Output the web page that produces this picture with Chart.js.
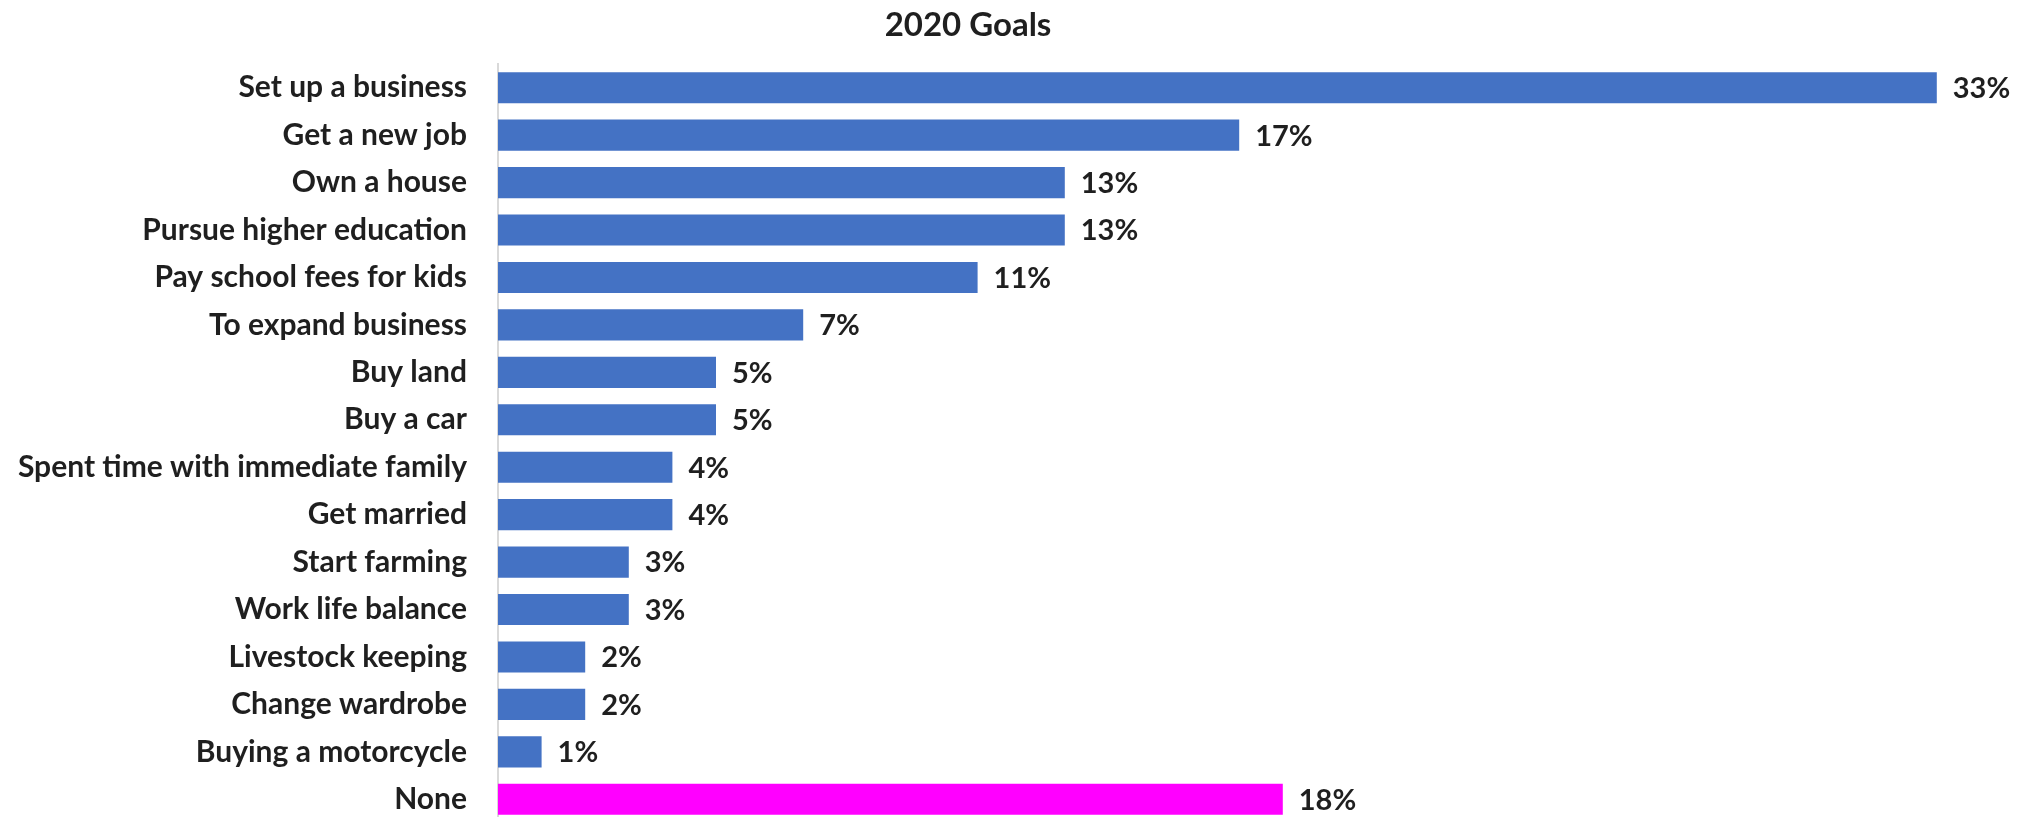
<!DOCTYPE html>
<html>
<head>
<meta charset="utf-8">
<title>2020 Goals</title>
<script src="https://cdn.jsdelivr.net/npm/chart.js@4/dist/chart.umd.min.js"></script>
<style>
  html, body { margin: 0; padding: 0; background: #fff; }
  body { width: 2029px; height: 817px; overflow: hidden; }
  #goalsChart { display: block; }
</style>
</head>
<body>
<canvas id="goalsChart" width="2029" height="823"></canvas>
<script>
// survey answers, top to bottom
const goals = [
  "Set up a business", "Get a new job", "Own a house", "Pursue higher education",
  "Pay school fees for kids", "To expand business", "Buy land", "Buy a car",
  "Spent time with immediate family", "Get married", "Start farming",
  "Work life balance", "Livestock keeping", "Change wardrobe",
  "Buying a motorcycle", "None"
];
const shares = [33, 17, 13, 13, 11, 7, 5, 5, 4, 4, 3, 3, 2, 2, 1, 18];
const xMax = 35;
const chartTitle = "2020 Goals";

const BLUE = "#4472C4";
const PINK = "#FF00FF";
const TEXT = "#1f1f1f";
const FONT = "Lato, 'Open Sans', sans-serif";

const barColors = goals.map(g => g === "None" ? PINK : BLUE);

// title sits a bit left of the page centre, over the bars
const titleText = {
  id: "titleText",
  afterDraw(chart) {
    const ctx = chart.ctx;
    ctx.save();
    ctx.font = "bold 33px " + FONT;
    ctx.fillStyle = TEXT;
    ctx.textAlign = "center";
    ctx.textBaseline = "middle";
    ctx.fillText(chartTitle, 968, 25);
    ctx.restore();
  }
};

// prints "NN%" just past the end of every bar
const valueLabels = {
  id: "valueLabels",
  afterDatasetsDraw(chart) {
    const ctx = chart.ctx;
    const meta = chart.getDatasetMeta(0);
    ctx.save();
    ctx.font = "bold 29px " + FONT;
    ctx.fillStyle = TEXT;
    ctx.textAlign = "left";
    ctx.textBaseline = "middle";
    meta.data.forEach((bar, i) => {
      ctx.fillText(shares[i] + "%", bar.x + 16, bar.y + 1);
    });
    ctx.restore();
  }
};

new Chart(document.getElementById("goalsChart"), {
  type: "bar",
  data: {
    labels: goals,
    datasets: [{
      data: shares,
      backgroundColor: barColors,
      borderWidth: 0,
      barPercentage: 0.655,
      categoryPercentage: 1
    }]
  },
  options: {
    indexAxis: "y",
    responsive: false,
    animation: false,
    layout: {
      padding: { left: 0, right: 5, top: 64, bottom: 0 }
    },
    plugins: {
      legend: { display: false },
      tooltip: { enabled: false },
      title: { display: false }
    },
    scales: {
      x: {
        display: false,
        min: 0,
        max: xMax
      },
      y: {
        afterFit(scale) {
          // fixed label column; bars run the full height of the chart area
          scale.width = 498;
          scale.paddingTop = 0;
          scale.paddingBottom = 0;
        },
        grid: { display: false, drawTicks: false },
        border: { display: true, color: "#d9d9d9", width: 2 },
        ticks: {
          color: TEXT,
          padding: 31,
          font: { family: FONT, size: 30, weight: "bold" }
        }
      }
    }
  },
  plugins: [valueLabels, titleText]
});
</script>
</body>
</html>
